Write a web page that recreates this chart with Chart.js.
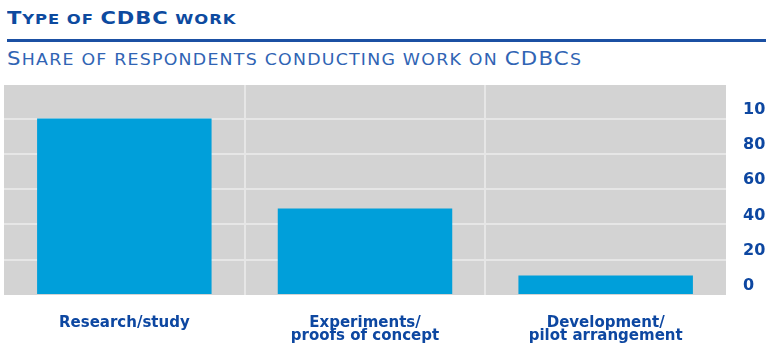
<!DOCTYPE html>
<html>
<head>
<meta charset="utf-8">
<script src="https://cdn.jsdelivr.net/npm/chart.js@4/dist/chart.umd.min.js"></script>
<style>
  html, body { margin: 0; padding: 0; background: #ffffff; width: 766px; height: 345px; overflow: hidden; }
  #wrap { position: relative; width: 766px; height: 345px; }
  #title { position: absolute; left: 7px; top: 7px; font-family: "DejaVu Sans", sans-serif; font-weight: bold; font-size: 18px; color: #0d4a9f; white-space: nowrap; letter-spacing: 0.8px; transform: scaleX(1.17); transform-origin: left top; }
  #title .sc { font-size: 14px; text-transform: uppercase; }
  #rule { position: absolute; left: 7px; top: 39px; width: 759px; height: 3px; background: #1b50a3; }
  #subtitle { position: absolute; left: 7px; top: 47px; font-family: "DejaVu Sans", sans-serif; font-weight: normal; font-size: 19px; color: #3064b4; white-space: nowrap; letter-spacing: 1.1px; transform: scaleX(1.12); transform-origin: left top; }
  #subtitle .sc { font-size: 15.5px; text-transform: uppercase; }
  canvas { position: absolute; left: 0; top: 0; }
</style>
</head>
<body>
<div id="wrap">
  <div id="title">T<span class="sc">ype of </span>CDBC<span class="sc"> work</span></div>
  <div id="rule"></div>
  <div id="subtitle">S<span class="sc">hare of respondents conducting work on </span>CDBC<span class="sc">s</span></div>
  <canvas id="c" width="766" height="345"></canvas>
</div>
<script>
const categories = [["Research/study"], ["Experiments/", "proofs of concept"], ["Development/", "pilot arrangement"]];
const shareValues = [100, 49, 11];
const yTickValues = [0, 20, 40, 60, 80, 100];

const labelBlue = '#0d47a1';

const bgPlugin = {
  id: 'plotBg',
  beforeDraw(chart) {
    const a = chart.chartArea;
    const ctx = chart.ctx;
    ctx.save();
    ctx.fillStyle = '#d3d3d3';
    ctx.fillRect(a.left, a.top, a.right - a.left, a.bottom - a.top);
    ctx.restore();
  }
};

new Chart(document.getElementById('c'), {
  type: 'bar',
  data: {
    labels: categories,
    datasets: [{
      data: shareValues,
      backgroundColor: '#009fda',
      borderWidth: 0,
      categoryPercentage: 1,
      barPercentage: 0.725
    }]
  },
  options: {
    responsive: false,
    animation: false,
    layout: { padding: { left: 4, top: 85, right: 0, bottom: 0 } },
    plugins: { legend: { display: false }, tooltip: { enabled: false } },
    scales: {
      x: {
        grid: {
          offset: true,
          drawTicks: false,
          lineWidth: 2,
          color: (c) => (c.type === 'tick' && c.index > 0) ? '#e6e6e6' : 'rgba(0,0,0,0)'
        },
        border: { display: false },
        ticks: {
          color: labelBlue,
          padding: 21,
          maxRotation: 0,
          autoSkip: false,
          font: { family: 'DejaVu Sans', weight: 'bold', size: 15, lineHeight: 0.9 }
        },
        afterFit(scale) { scale.height = 50; }
      },
      y: {
        position: 'right',
        min: 0,
        max: 119,
        afterBuildTicks(scale) { scale.ticks = yTickValues.map(v => ({ value: v })); },
        grid: {
          drawTicks: false,
          lineWidth: 2,
          color: (c) => (c.tick && c.tick.value > 0) ? '#e6e6e6' : 'rgba(0,0,0,0)'
        },
        border: { display: false },
        ticks: {
          color: labelBlue,
          padding: 17,
          labelOffset: -9,
          font: { family: 'DejaVu Sans', weight: 'bold', size: 16 }
        },
        afterFit(scale) { scale.width = 40; }
      }
    }
  },
  plugins: [bgPlugin]
});
</script>
</body>
</html>
